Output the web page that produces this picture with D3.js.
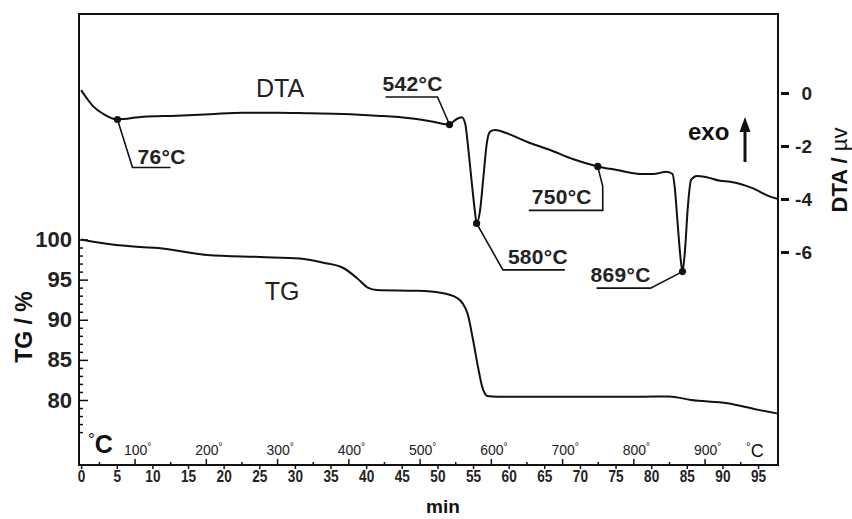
<!DOCTYPE html>
<html>
<head>
<meta charset="utf-8">
<script src="https://cdn.jsdelivr.net/npm/d3@7"></script>
<style>
  html, body { margin: 0; padding: 0; background: #fff; }
  svg { display: block; font-family: "Liberation Sans", Arial, Helvetica, sans-serif; }
</style>
</head>
<body>
<svg id="chart" width="852" height="519"></svg>
<script>
// ---- Data -------------------------------------------------------------
// Thermogravimetric curve: time (min) and remaining mass (%)
const tgMin = [0, 4.1, 8.3, 10.8, 17.7, 25.1, 30.7, 34.0, 36.8, 38.7, 40.3, 41.5, 47.2, 50.4,
               52.8, 54.2, 55.0, 55.7, 56.3, 57.0, 58.4, 60.2, 70.0, 78.2, 82.5, 85.6, 90.7, 94.9, 97.8];
const tgPct = [100, 99.4, 99.07, 98.94, 98.07, 97.82, 97.63, 97.1, 96.45, 95.2, 93.96, 93.7, 93.6, 93.37,
               92.7, 90.85, 87.5, 84.1, 81.6, 80.5, 80.4, 80.4, 80.4, 80.4, 80.45, 80.0, 79.6, 78.8, 78.3];

// Differential thermal analysis curve: time (min) and signal (µV)
const dtaMin = [0, 0.8, 1.73, 3.13, 8.7, 13.43, 18.1, 22.73, 27.46, 32.14, 36.77, 41.5, 46.17, 49.4,
                52.48, 53.42, 53.89, 54.35, 54.83, 55.29, 55.99, 56.46, 56.93, 57.4, 58.1, 59.74,
                62.55, 65.82, 69.09, 75.18, 78.45, 80.27, 82.19, 83.0, 83.3, 83.75, 84.15,
                84.75, 85.15, 85.6, 86.4, 87.8, 89.67, 91.08, 94.3, 96.69, 97.8];
const dtaVal = [0.11, -0.2, -0.515, -0.79, -0.894, -0.857, -0.8, -0.743, -0.743, -0.766, -0.79, -0.857, -0.955, -1.083,
                -1.02, -0.917, -1.143, -2.15, -3.4, -4.53, -4.42, -3.16, -1.9, -1.46, -1.4, -1.52,
                -1.84, -2.15, -2.5, -2.906, -3.057, -3.057, -2.97, -3.057, -3.54, -5.05, -6.3,
                -5.92, -4.29, -3.28, -3.13, -3.18, -3.31, -3.35, -3.6, -3.91, -4.0];

// Marked thermal events on the DTA curve: temperature (°C) and signal (µV)
const eventTemp = [76, 542, 580, 750, 869];
const eventDta  = [-1.0, -1.19, -4.92, -2.77, -6.74];

// Axis ticks
const minuteTicks = d3.range(0, 96, 5);
const tempMajor = [100, 200, 300, 400, 500, 600, 700, 800, 900];
const tempMinor = [50, 150, 250, 350, 450, 550, 650, 750, 850, 950];
const tgMajor = [80, 85, 90, 95, 100];
const tgMinor = d3.range(76, 100, 1).filter(v => v % 5 !== 0);
const dtaTicks = [0, -2, -4, -6];

// Linear heating programme: furnace temperature = start + rate * time
const heatStart = 25;   // °C
const heatRate = 10;    // °C per min

// ---- Layout -----------------------------------------------------------
const L = 79, R = 778, T = 14, B = 465;
const svg = d3.select("#chart");

const x = d3.scaleLinear().domain([-0.3, 97.8]).range([L, R]);
const tempScale = d3.scaleLinear()
  .domain(x.domain().map(t => heatStart + heatRate * t))
  .range(x.range());
const minOfTemp = T0 => (T0 - heatStart) / heatRate;
const yTG = d3.scaleLinear().domain([80, 100]).range([400, 239.5]);
const yDTA = d3.scaleLinear().domain([-6, 0]).range([252, 93]);

const ink = "#111";
const plain = d => String(d);   // hyphen-minus, no decimals

// ---- Curves -----------------------------------------------------------
const tgData = tgMin.map((t, i) => ({ t, v: tgPct[i] }));
const events = eventTemp.map((temp, i) => ({ temp, t: minOfTemp(temp), v: eventDta[i] }));
const dtaData = dtaMin.map((t, i) => ({ t, v: dtaVal[i] }))
  .concat(events.map(e => ({ t: e.t, v: e.v })))
  .sort((a, b) => a.t - b.t);

const lineTG = d3.line().x(d => x(d.t)).y(d => yTG(d.v)).curve(d3.curveMonotoneX);
const lineDTA = d3.line().x(d => x(d.t)).y(d => yDTA(d.v)).curve(d3.curveMonotoneX);

svg.append("path").datum(tgData).attr("d", lineTG)
  .attr("fill", "none").attr("stroke", ink).attr("stroke-width", 2).attr("stroke-linejoin", "round");
svg.append("path").datum(dtaData).attr("d", lineDTA)
  .attr("fill", "none").attr("stroke", ink).attr("stroke-width", 2).attr("stroke-linejoin", "round");

// ---- Frame ------------------------------------------------------------
svg.append("rect").attr("x", L).attr("y", T).attr("width", R - L).attr("height", B - T)
  .attr("fill", "none").attr("stroke", ink).attr("stroke-width", 2);

// ---- Bottom axis: minutes --------------------------------------------
const gx = svg.append("g").attr("transform", `translate(0,${B})`)
  .call(d3.axisBottom(x).tickValues(minuteTicks).tickFormat(plain)
        .tickSize(4).tickPadding(1).tickSizeOuter(0));
gx.select(".domain").remove();
gx.selectAll(".tick line").attr("stroke", ink).attr("stroke-width", 1.5);
gx.selectAll(".tick text")
  .attr("font-size", 17).attr("font-weight", "bold").attr("fill", "#222")
  .attr("font-family", "Liberation Sans, Arial, sans-serif")
  .attr("transform", "scale(0.8,1)");

// Temperature scale drawn on the same baseline, ticks pointing up
const gtMaj = svg.append("g").attr("transform", `translate(0,${B})`)
  .call(d3.axisTop(tempScale).tickValues(tempMajor).tickSize(6).tickFormat(""));
const gtMin = svg.append("g").attr("transform", `translate(0,${B})`)
  .call(d3.axisTop(tempScale).tickValues(tempMinor).tickSize(3).tickFormat(""));
[gtMaj, gtMin].forEach(g => {
  g.select(".domain").remove();
  g.selectAll(".tick line").attr("stroke", ink).attr("stroke-width", 1.5);
});
const tempLbl = svg.append("g").selectAll("text").data(tempMajor).join("text")
  .attr("x", d => tempScale(d) + 3).attr("y", 455)
  .attr("text-anchor", "middle").attr("font-size", 14).attr("fill", "#222");
tempLbl.append("tspan").text(d => d);
tempLbl.append("tspan").attr("font-size", 10).attr("dy", -5).text("°");

// Big °C markers at both ends of the temperature scale
const cL = svg.append("text").attr("x", 88).attr("y", 453).attr("fill", ink);
cL.append("tspan").attr("font-size", 17).attr("dy", -8).text("°");
cL.append("tspan").attr("font-size", 25).attr("font-weight", "bold").attr("dy", 8).text("C");
const cR = svg.append("text").attr("x", 746).attr("y", 457).attr("fill", ink);
cR.append("tspan").attr("font-size", 12).attr("dy", -6).text("°");
cR.append("tspan").attr("font-size", 18).attr("dy", 6).text("C");

svg.append("text").attr("x", 443).attr("y", 513).attr("text-anchor", "middle")
  .attr("font-size", 19).attr("font-weight", "bold").attr("fill", ink).text("min");

// ---- Left axis: TG ----------------------------------------------------
const gyL = svg.append("g").attr("transform", `translate(${L},0)`)
  .call(d3.axisLeft(yTG).tickValues(tgMajor).tickFormat(plain).tickSize(-9).tickPadding(7));
gyL.select(".domain").remove();
gyL.selectAll(".tick line").attr("stroke", ink).attr("stroke-width", 1.5);
gyL.selectAll(".tick text").attr("font-size", 22).attr("font-weight", "bold").attr("fill", "#222");
const gyLm = svg.append("g").attr("transform", `translate(${L},0)`)
  .call(d3.axisLeft(yTG).tickValues(tgMinor).tickSize(-4).tickFormat(""));
gyLm.select(".domain").remove();
gyLm.selectAll(".tick line").attr("stroke", ink).attr("stroke-width", 1.5);

svg.append("text").attr("transform", "translate(32,327) rotate(-90)")
  .attr("text-anchor", "middle").attr("font-size", 23).attr("font-weight", "bold")
  .attr("fill", ink).text("TG / %");

// ---- Right axis: DTA --------------------------------------------------
const gyR = svg.append("g").attr("transform", `translate(${R},0)`)
  .call(d3.axisRight(yDTA).tickValues(dtaTicks).tickFormat(plain).tickSize(11).tickPadding(23));
gyR.select(".domain").remove();
gyR.selectAll(".tick line").attr("x1", 3).attr("stroke", ink).attr("stroke-width", 3);
gyR.selectAll(".tick text").attr("text-anchor", "end").attr("x", 34)
  .attr("font-size", 19).attr("font-weight", "bold").attr("fill", "#222");

const dtaTitle = svg.append("text").attr("transform", "translate(847,170) rotate(-90)")
  .attr("text-anchor", "middle").attr("font-size", 22).attr("font-weight", "bold").attr("fill", ink);
dtaTitle.append("tspan").text("DTA / ");
dtaTitle.append("tspan").attr("font-weight", "normal").text("µv");

// ---- Curve names ------------------------------------------------------
svg.append("text").attr("x", 280).attr("y", 97).attr("text-anchor", "middle")
  .attr("font-size", 25).attr("fill", "#222").text("DTA");
svg.append("text").attr("x", 282).attr("y", 300).attr("text-anchor", "middle")
  .attr("font-size", 25).attr("fill", "#222").text("TG");

// ---- exo direction arrow ---------------------------------------------
svg.append("text").attr("x", 688).attr("y", 140).attr("font-size", 24)
  .attr("font-weight", "bold").attr("fill", ink).text("exo");
svg.append("line").attr("x1", 745).attr("x2", 745).attr("y1", 162).attr("y2", 128)
  .attr("stroke", ink).attr("stroke-width", 3);
svg.append("path").attr("d", "M745,117 L739.5,132 L750.5,132 Z").attr("fill", ink);

// ---- Event markers with leader lines ---------------------------------
// leader polyline (offsets from the marker) and label anchor for each event
const leaders = [
  { path: [[0, 0], [15, 48], [53, 48]], label: [20, 44] },
  { path: [[0, 0], [-12, -27.5], [-64, -27.5]], label: [-67, -33.5] },
  { path: [[0, 0], [26.3, 46.5], [88.3, 46.5]], label: [31.3, 40.5] },
  { path: [[0, 0], [5, 20], [5, 44], [-69, 44]], label: [-66, 38] },
  { path: [[0, 0], [-32, 16.5], [-86, 16.5]], label: [-92, 10.5] }
];
const ev = svg.append("g").selectAll("g").data(events).join("g")
  .attr("transform", d => `translate(${x(d.t)},${yDTA(d.v)})`);
ev.append("path")
  .attr("d", (d, i) => d3.line()(leaders[i].path))
  .attr("fill", "none").attr("stroke", ink).attr("stroke-width", 1.6);
ev.append("circle").attr("r", 3.6).attr("fill", ink);
ev.append("text")
  .attr("x", (d, i) => leaders[i].label[0]).attr("y", (d, i) => leaders[i].label[1])
  .attr("font-size", 21).attr("font-weight", "bold").attr("fill", "#222")
  .attr("letter-spacing", 0.3)
  .text(d => `${d.temp}°C`);
</script>
</body>
</html>
